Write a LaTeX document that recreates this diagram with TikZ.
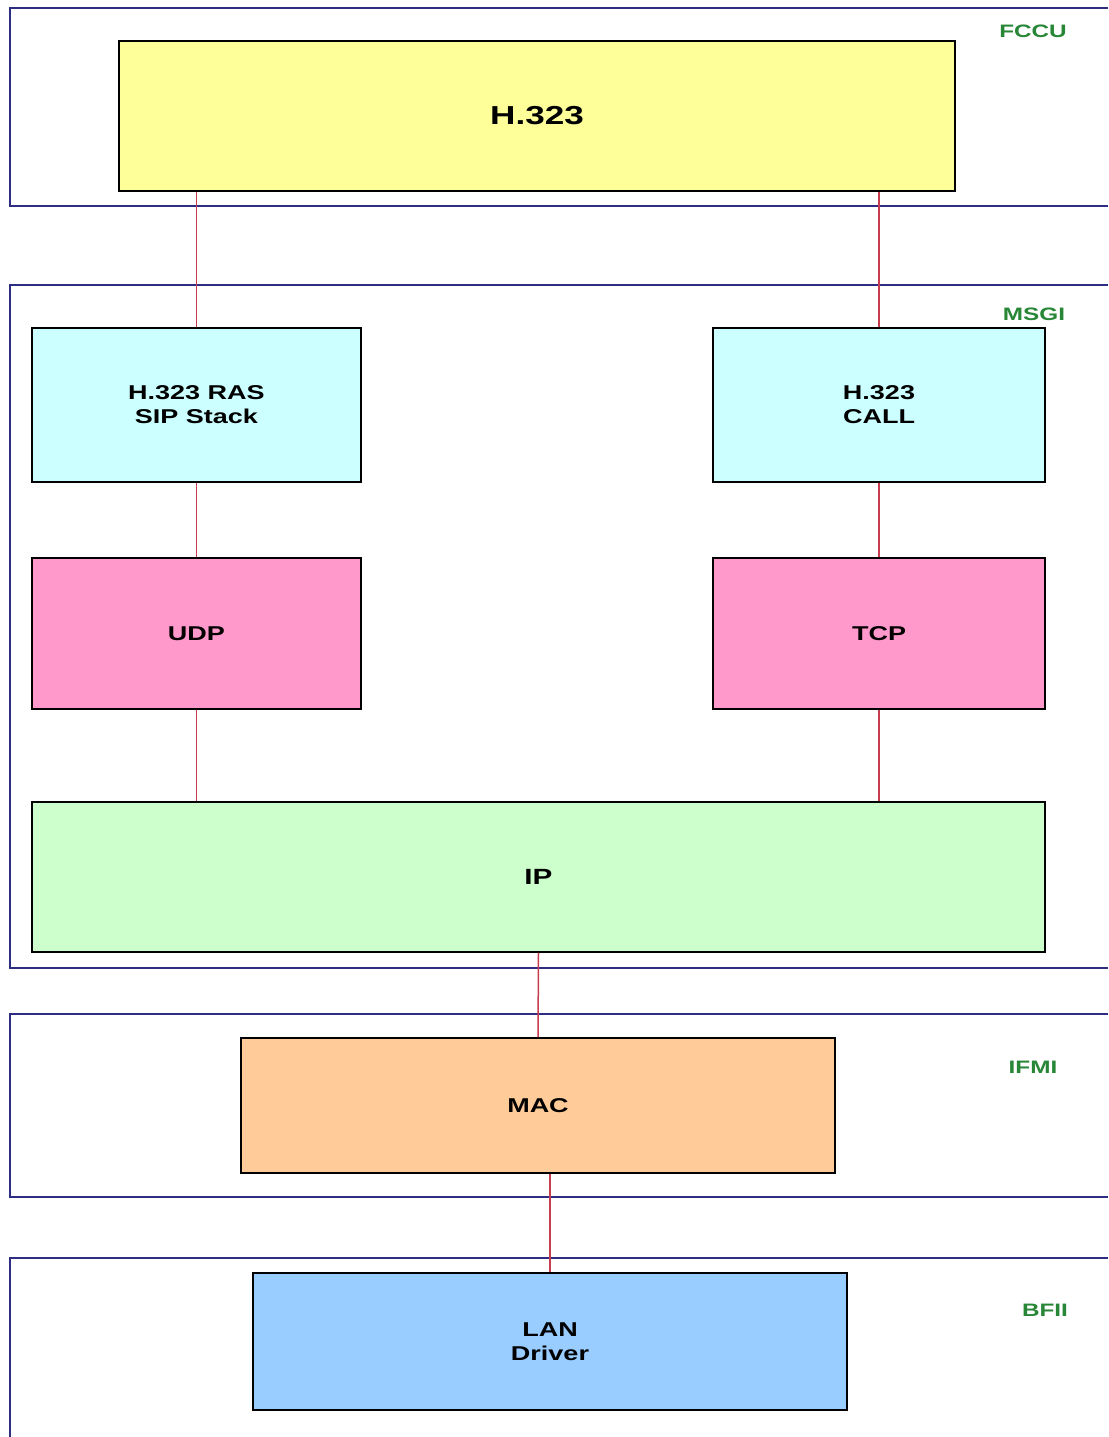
\documentclass[tikz,border=0pt]{standalone}
\usepackage{fontspec}
\usepackage{xcolor}
\usepackage{tikz}
\newfontfamily\layerfont{Liberation Sans}[FakeStretch=1.35]

\definecolor{panelblue}{RGB}{45,45,130}
\definecolor{linkred}{RGB}{200,60,80}
\definecolor{tagcol}{RGB}{40,135,55}
\definecolor{appyel}{RGB}{255,255,153}
\definecolor{stackcyan}{RGB}{204,255,255}
\definecolor{transpink}{RGB}{255,153,204}
\definecolor{netgreen}{RGB}{204,255,204}
\definecolor{macpeach}{RGB}{255,204,153}
\definecolor{drvblue}{RGB}{153,204,255}

\begin{document}
\begin{tikzpicture}[x=1pt, y=-1pt,
    layer/.style={draw=black, line width=1.8pt, inner sep=0pt, align=center,
                  font=\layerfont\bfseries\fontsize{20}{24}\selectfont},
    panel/.style={draw=panelblue, line width=2.8pt},
    link/.style={draw=linkred, line width=1.5pt},
    tag/.style={text=tagcol, font=\layerfont\bfseries\fontsize{18}{20}\selectfont}
]
\useasboundingbox[fill=white] (0,0) rectangle (1108,1437);

% ================================================================
%  Panels (open to the right)
% ================================================================
\draw[panel] (1108,8)    -- (10,8)    -- (10,206)  -- (1108,206);
\draw[panel] (1108,285)  -- (10,285)  -- (10,968)  -- (1108,968);
\draw[panel] (1108,1014) -- (10,1014) -- (10,1197) -- (1108,1197);
\draw[panel] (1108,1258) -- (10,1258) -- (10,1437);

\node[tag] (fccu) at (1033,31)   {FCCU};
\node[tag] (msgi) at (1034,314)  {MSGI};
\node[tag] (ifmi) at (1033,1067) {IFMI};
\node[tag] (bfii) at (1045,1310) {BFII};

% ================================================================
%  Layers
% ================================================================
\node[layer, fill=appyel, minimum width=836pt, minimum height=150pt,
      font=\layerfont\bfseries\fontsize{26}{30}\selectfont] (h323) at (537,116) {H.323};

\node[layer, fill=stackcyan, minimum width=329pt, minimum height=154pt] (ras)  at (196.5,405) {H.323 RAS\\SIP Stack};
\node[layer, fill=stackcyan, minimum width=332pt, minimum height=154pt] (call) at (879,405)   {H.323\\CALL};

\node[layer, fill=transpink, minimum width=329pt, minimum height=151pt] (udp) at (196.5,633.5) {UDP};
\node[layer, fill=transpink, minimum width=332pt, minimum height=151pt] (tcp) at (879,633.5)   {TCP};

\node[layer, fill=netgreen, minimum width=1013pt, minimum height=150pt,
      font=\layerfont\bfseries\fontsize{22}{26}\selectfont] (ip) at (538.5,877) {IP};

\node[layer, fill=macpeach, minimum width=594pt, minimum height=135pt] (mac) at (538,1105.5)  {MAC};
\node[layer, fill=drvblue,  minimum width=594pt, minimum height=137pt] (lan) at (550,1341.5)  {LAN\\Driver};

% ================================================================
%  Links
% ================================================================
\draw[link] (ras.north)  -- (ras.north |- h323.south);
\draw[link] (call.north) -- (call.north |- h323.south);
\draw[link] (ras.south)  -- (udp.north);
\draw[link] (call.south) -- (tcp.north);
\draw[link] (udp.south)  -- (udp.south |- ip.north);
\draw[link] (tcp.south)  -- (tcp.south |- ip.north);
\draw[link] (ip.south)   -- (mac.north);
\draw[link] (lan.north)  -- (lan.north |- mac.south);
\end{tikzpicture}
\end{document}
